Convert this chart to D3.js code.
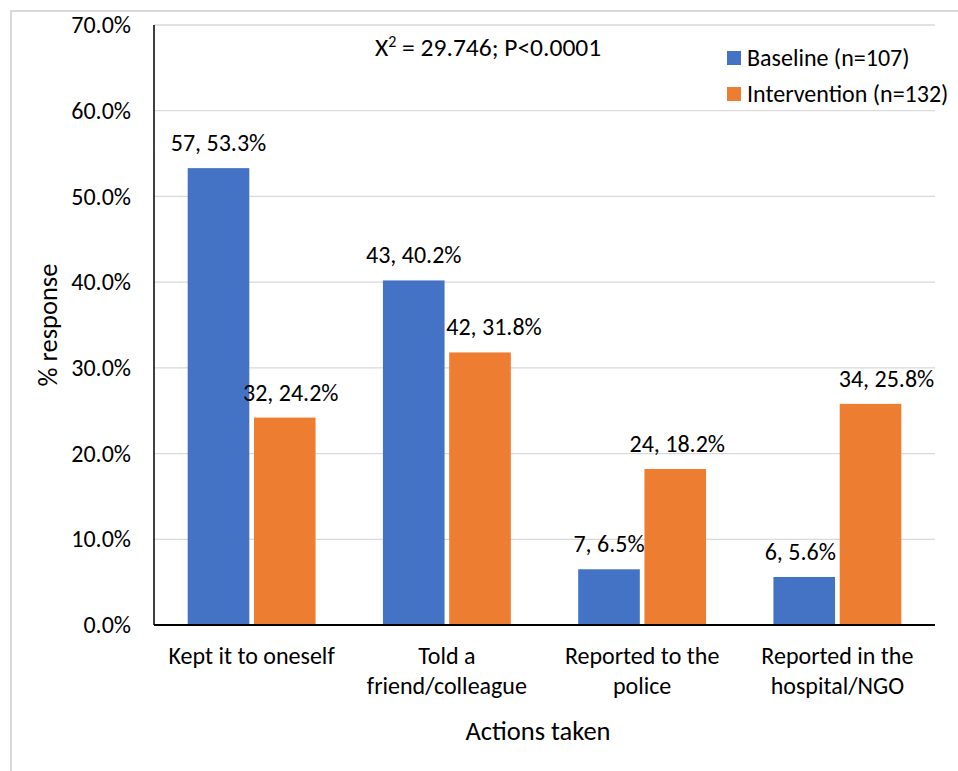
<!DOCTYPE html>
<html>
<head>
<meta charset="utf-8">
<script src="https://cdn.jsdelivr.net/npm/d3@7"></script>
<style>
  html, body { margin: 0; padding: 0; background: #fff; }
  svg text { font-family: Carlito, Calibri, "Open Sans", sans-serif; fill: #000; }
</style>
</head>
<body>
<svg id="chart" width="958" height="771"></svg>
<script>
// Actions taken after the incident, baseline vs intervention survey
const categories = [["Kept it to oneself"], ["Told a", "friend/colleague"], ["Reported to the", "police"], ["Reported in the", "hospital/NGO"]];
const seriesNames = ["Baseline (n=107)", "Intervention (n=132)"];
const baselineCounts = [57, 43, 7, 6];
const baselinePct = [53.3, 40.2, 6.5, 5.6];
const interventionCounts = [32, 42, 24, 34];
const interventionPct = [24.2, 31.8, 18.2, 25.8];
const yTicks = [0, 10, 20, 30, 40, 50, 60, 70];
const annotation = "= 29.746; P<0.0001";

const colors = ["#4472C4", "#ED7D31"];
// small horizontal nudges so neighbouring value labels do not collide
const labelNudge = [[0, 6], [0, 14], [0, 2], [-4, 16]];
const FS = "24px";

const svg = d3.select("#chart");
const margin = { left: 154, right: 23, top: 25, bottom: 146 };
const W = 958, H = 771;
const plotW = W - margin.left - margin.right;
const plotH = H - margin.top - margin.bottom;

// outer chart frame
svg.append("rect").attr("x", 11).attr("y", 11).attr("width", 980).attr("height", 800)
  .attr("fill", "none").attr("stroke", "#d9d9d9").attr("stroke-width", 2);

const g = svg.append("g").attr("transform", `translate(${margin.left},${margin.top})`);

const x0 = d3.scaleBand().domain(d3.range(categories.length)).range([0, plotW]).paddingInner(0.345).paddingOuter(0.1725);
const x1 = d3.scaleBand().domain([0, 1]).range([0, x0.bandwidth()]).paddingInner(0.07);
const y = d3.scaleLinear().domain([0, 70]).range([plotH, 0]);

// gridlines
g.append("g").selectAll("line").data(yTicks.filter(d => d > 0)).join("line")
  .attr("x1", 0).attr("x2", plotW)
  .attr("y1", d => y(d)).attr("y2", d => y(d))
  .attr("stroke", "#d9d9d9").attr("stroke-width", 1.3);

// y axis tick labels
const yAxis = d3.axisLeft(y).tickValues(yTicks).tickFormat(d => d3.format(".1f")(d) + "%").tickSize(0).tickPadding(23);
const ya = g.append("g").call(yAxis);
ya.select(".domain").remove();
ya.selectAll("text").style("font-size", FS).style("font-family", null);

// bars
const rows = categories.map((c, i) => ({
  i,
  vals: [
    { s: 0, n: baselineCounts[i], p: baselinePct[i] },
    { s: 1, n: interventionCounts[i], p: interventionPct[i] }
  ]
}));

const grp = g.selectAll(".cat").data(rows).join("g").attr("class", "cat")
  .attr("transform", d => `translate(${x0(d.i)},0)`);

grp.selectAll("rect").data(d => d.vals).join("rect")
  .attr("x", d => x1(d.s)).attr("width", x1.bandwidth())
  .attr("y", d => y(d.p)).attr("height", d => plotH - y(d.p))
  .attr("fill", d => colors[d.s]);

// value labels: "count, percent"
grp.each(function (row) {
  d3.select(this).selectAll("text.val").data(row.vals).join("text").attr("class", "val")
    .attr("x", d => x1(d.s) + x1.bandwidth() / 2 + labelNudge[row.i][d.s])
    .attr("y", d => y(d.p) - 17)
    .attr("text-anchor", "middle")
    .style("font-size", FS)
    .text(d => `${d.n}, ${d.p.toFixed(1)}%`);
});

// axis lines
g.append("line").attr("x1", 0).attr("x2", 0).attr("y1", 0).attr("y2", plotH)
  .attr("stroke", "#000").attr("stroke-width", 1.5);
g.append("line").attr("x1", 0).attr("x2", plotW).attr("y1", plotH).attr("y2", plotH)
  .attr("stroke", "#000").attr("stroke-width", 2);

// category labels
const xa = g.append("g").attr("transform", `translate(0,${plotH})`);
categories.forEach((lines, i) => {
  const cx = x0(i) + x0.bandwidth() / 2;
  const t = xa.append("text").attr("text-anchor", "middle")
    .attr("x", cx).attr("y", 39).style("font-size", FS);
  lines.forEach((ln, k) => t.append("tspan").attr("x", cx).attr("dy", k === 0 ? 0 : 30).text(ln));
});

// axis titles
svg.append("text").attr("x", 538).attr("y", 740).attr("text-anchor", "middle")
  .style("font-size", "26.5px").text("Actions taken");
svg.append("text").attr("transform", "translate(57,325) rotate(-90)").attr("text-anchor", "middle")
  .style("font-size", "26.5px").text("% response");

// chi-square annotation
const ann = svg.append("text").attr("x", 375).attr("y", 56).style("font-size", "25.5px");
ann.append("tspan").text("X");
ann.append("tspan").attr("dy", -9).style("font-size", "16px").text("2");
ann.append("tspan").attr("dy", 9).text(" " + annotation);

// legend
const leg = svg.append("g").attr("transform", "translate(727,51)");
seriesNames.forEach((name, i) => {
  leg.append("rect").attr("x", 0).attr("y", i * 36).attr("width", 14).attr("height", 14).attr("fill", colors[i]);
  leg.append("text").attr("x", 20).attr("y", i * 36 + 15).style("font-size", FS).text(name);
});
</script>
</body>
</html>
